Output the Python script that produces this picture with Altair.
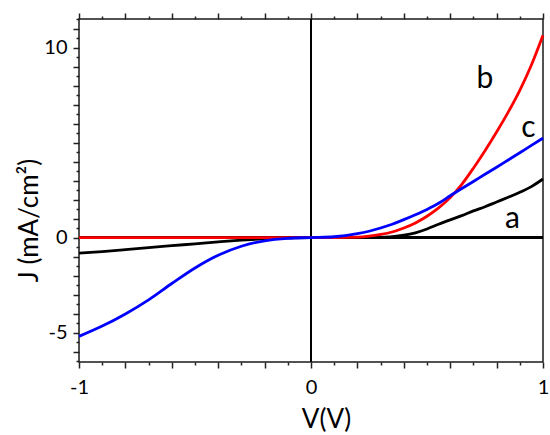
import altair as alt
import pandas as pd

# ---- data ----
V = [-1.0, -0.9, -0.8, -0.7, -0.6, -0.5, -0.4, -0.3, -0.2, -0.1, 0.0, 0.1, 0.2, 0.25,
     0.3, 0.35, 0.4, 0.45, 0.5, 0.55, 0.6, 0.65, 0.7, 0.75, 0.8, 0.85, 0.9, 0.95, 1.0]
J_a = [-0.82, -0.74, -0.64, -0.53, -0.43, -0.33, -0.23, -0.14, -0.07, -0.02, 0.0, 0.0, 0.0, 0.01,
       0.02, 0.05, 0.12, 0.25, 0.45, 0.7, 0.93, 1.15, 1.4, 1.62, 1.87, 2.12, 2.38, 2.68, 3.08]
J_b = [0.0, 0.0, 0.0, 0.0, 0.0, 0.0, 0.0, 0.0, 0.0, 0.0, 0.0, 0.0, 0.02, 0.07,
       0.16, 0.29, 0.5, 0.77, 1.12, 1.56, 2.1, 2.8, 3.65, 4.57, 5.55, 6.6, 7.75, 9.08, 10.65]
J_c = [-5.2, -4.66, -4.02, -3.28, -2.42, -1.6, -0.93, -0.46, -0.17, -0.04, 0.0, 0.04, 0.2, 0.33,
       0.5, 0.7, 0.94, 1.2, 1.48, 1.8, 2.2, 2.58, 2.95, 3.33, 3.7, 4.08, 4.46, 4.85, 5.23]

series_names = ["a", "b", "c"]
series_colors = ["#000000", "#ff0000", "#0000ff"]
label_V = [0.868, 0.75, 0.937]
label_J = [1.0, 8.35, 5.76]

x_major = [-1.0, -0.8, -0.6, -0.4, -0.2, 0.0, 0.2, 0.4, 0.6, 0.8, 1.0]
x_minor = [-0.9, -0.7, -0.5, -0.3, -0.1, 0.1, 0.3, 0.5, 0.7, 0.9]
y_major = [-6, -5, -4, -3, -2, -1, 0, 1, 2, 3, 4, 5, 6, 7, 8, 9, 10, 11]
y_minor = [-6.5, -5.5, -4.5, -3.5, -2.5, -1.5, -0.5, 0.5, 1.5, 2.5, 3.5, 4.5, 5.5,
           6.5, 7.5, 8.5, 9.5, 10.5, 11.5]

# ---- tables ----
frames = {}
for name, ys in zip(series_names, [J_a, J_b, J_c]):
    frames[name] = pd.DataFrame({"V": V, "J": ys, "i": list(range(len(V)))})
labels_df = pd.DataFrame({"V": label_V, "J": label_J, "t": series_names})

FONT = "Lato"
xs = alt.Scale(domain=[-1, 1], nice=False, zero=False)
ys_ = alt.Scale(domain=[-6.55, 11.5], nice=False, zero=False)

common = dict(grid=False, domain=False, tickColor="#222222", tickWidth=1.5,
              labelFont=FONT, labelFontSize=20, labelColor="#000000",
              titleFont=FONT, titleFontSize=26, titleColor="#000000",
              titleFontWeight="normal")

def ax_layer(xaxis, yaxis):
    return alt.Chart(frames["a"]).mark_point(opacity=0).encode(
        x=alt.X("V:Q", scale=xs, axis=xaxis),
        y=alt.Y("J:Q", scale=ys_, axis=yaxis),
    )

ax1 = ax_layer(
    alt.Axis(orient="bottom", values=x_major, tickSize=6,
             labelExpr="datum.value == -1 ? '-1' : (datum.value == 0 ? '0' : (datum.value == 1 ? '1' : ''))",
             labelPadding=9, labelOverlap=False, labelFlush=False,
             title="V(V)", titleX=247, titleY=57, titleAlign="center",
             titleBaseline="middle", **common),
    alt.Axis(orient="left", values=y_major, tickSize=6,
             labelExpr="datum.value == -5 ? '-5' : (datum.value == 0 ? '0' : (datum.value == 10 ? '10' : ''))",
             labelPadding=6, labelOverlap=False, labelFlush=False,
             title="J (mA/cm²)", titleX=-50, titleY=201, titleAngle=-90,
             titleAlign="center", titleBaseline="middle", **common),
)
ax2 = ax_layer(
    alt.Axis(orient="bottom", values=x_minor, tickSize=3, labels=False, title=None, **common),
    alt.Axis(orient="left", values=y_minor, tickSize=3, labels=False, title=None, **common),
)
ax3 = ax_layer(
    alt.Axis(orient="top", values=x_major, tickSize=6, labels=False, title=None, **common),
    None,
)
ax4 = ax_layer(
    alt.Axis(orient="top", values=x_minor, tickSize=3, labels=False, title=None, **common),
    None,
)

vzero = alt.Chart(frames["a"]).mark_rule(color="#000000", strokeWidth=1.5).encode(
    x=alt.X(datum=0, scale=xs, axis=None))
hzero = alt.Chart(frames["a"]).mark_rule(color="#000000", strokeWidth=1.5).encode(
    y=alt.Y(datum=0, scale=ys_, axis=None))

def line_layer(name, color):
    return alt.Chart(frames[name]).mark_line(
        color=color, strokeWidth=2.8, interpolate="monotone"
    ).encode(
        x=alt.X("V:Q", scale=xs, axis=None),
        y=alt.Y("J:Q", scale=ys_, axis=None),
        order="i:Q",
    )

la = line_layer("a", series_colors[0])
lb = line_layer("b", series_colors[1])
lc = line_layer("c", series_colors[2])

txt = alt.Chart(labels_df).mark_text(font=FONT, fontSize=30, color="#000000",
                                     baseline="middle", align="center").encode(
    x=alt.X("V:Q", scale=xs, axis=None),
    y=alt.Y("J:Q", scale=ys_, axis=None),
    text="t:N",
)

chart = alt.layer(ax1, ax2, ax3, ax4, vzero, hzero, la, lb, lc, txt).resolve_axis(
    x="independent", y="independent"
).properties(
    width=464, height=343,
    autosize=alt.AutoSizeParams(type="none"),
    padding={"left": 79, "top": 19, "right": 7, "bottom": 73},
    background="#ffffff",
).configure_view(stroke="#1a1a1a", strokeWidth=1.5)

chart.save("out.html", embed_options={"renderer": "svg", "actions": False})
